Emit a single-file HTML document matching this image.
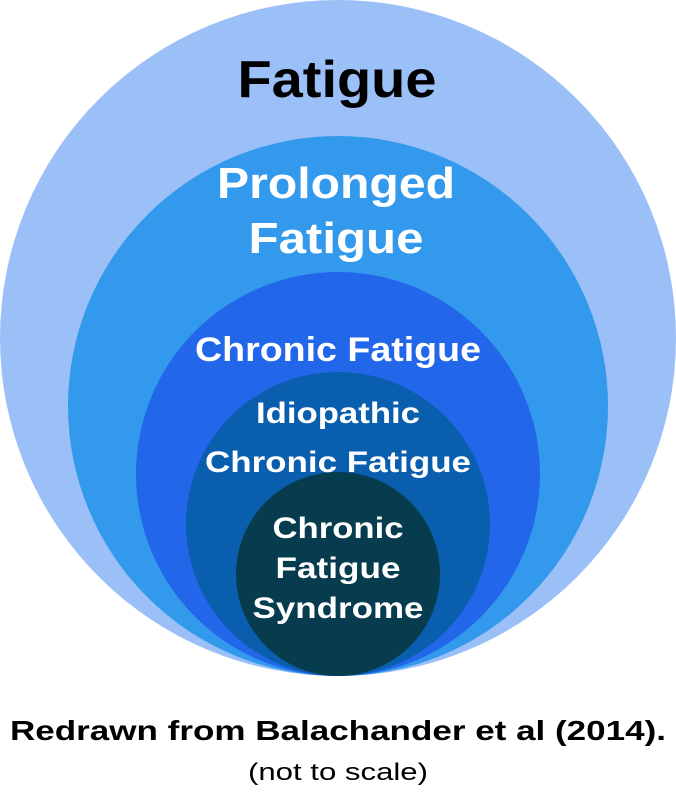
<!DOCTYPE html>
<html><head><style>
body{margin:0;width:676px;height:789px;background:#fff;overflow:hidden}
</style></head><body>
<svg width="676" height="789" xmlns="http://www.w3.org/2000/svg" font-family="Liberation Sans, sans-serif" font-weight="bold" text-anchor="middle">
<circle cx="338" cy="338" r="338" fill="#9bbff7"/>
<circle cx="338" cy="406" r="270" fill="#3399ec"/>
<circle cx="338" cy="474" r="202" fill="#2266ea"/>
<circle cx="338" cy="524" r="152" fill="#0a5eae"/>
<circle cx="338" cy="574" r="102" fill="#073c4e"/>
<text x="337" y="97" font-size="52" fill="#000" textLength="199" lengthAdjust="spacingAndGlyphs">Fatigue</text>
<text x="336" y="198" font-size="44" fill="#fff" textLength="238" lengthAdjust="spacingAndGlyphs">Prolonged</text>
<text x="336" y="253" font-size="44" fill="#fff" textLength="175" lengthAdjust="spacingAndGlyphs">Fatigue</text>
<text x="338" y="361" font-size="34" fill="#fff" textLength="286" lengthAdjust="spacingAndGlyphs">Chronic Fatigue</text>
<text x="338" y="423" font-size="30" fill="#fff" textLength="164" lengthAdjust="spacingAndGlyphs">Idiopathic</text>
<text x="338" y="472" font-size="30" fill="#fff" textLength="266" lengthAdjust="spacingAndGlyphs">Chronic Fatigue</text>
<text x="338" y="538" font-size="30" fill="#fff" textLength="131" lengthAdjust="spacingAndGlyphs">Chronic</text>
<text x="338" y="578" font-size="30" fill="#fff" textLength="125" lengthAdjust="spacingAndGlyphs">Fatigue</text>
<text x="338" y="618" font-size="30" fill="#fff" textLength="171" lengthAdjust="spacingAndGlyphs">Syndrome</text>
<text x="338" y="740" font-size="28" fill="#000" textLength="656" lengthAdjust="spacingAndGlyphs">Redrawn from Balachander et al (2014).</text>
<text x="338" y="780" font-size="24" font-weight="normal" fill="#000" textLength="180" lengthAdjust="spacingAndGlyphs">(not to scale)</text>
</svg>
</body></html>
